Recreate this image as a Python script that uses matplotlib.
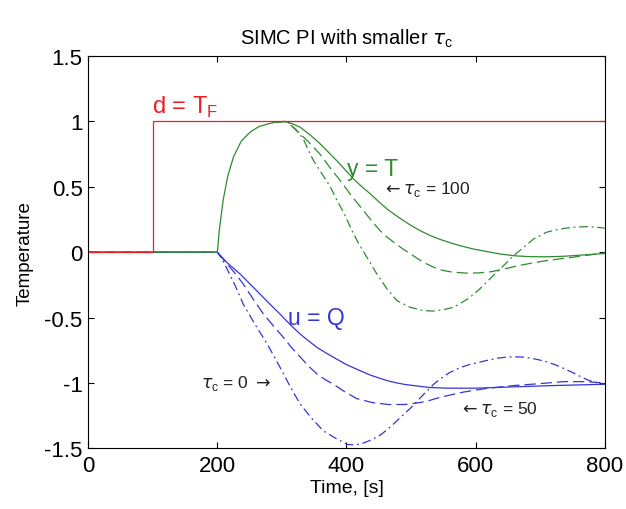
import matplotlib.pyplot as plt

plt.rcParams['font.family'] = ['Liberation Sans', 'DejaVu Sans']

# disturbance d = T_F
t_d = [0, 100, 100, 800]
d = [0, 0, 1, 1]

# y = T, common rise after the disturbance reaches the output
t_rise = [0, 200, 203, 209, 216, 225, 237, 251, 264, 277, 290, 305]
y_rise = [0, 0, 0.17, 0.40, 0.58, 0.73, 0.85, 0.92, 0.96, 0.98, 0.995, 1.0]

# y for tau_c = 100 / 50 / 0 (after the peak)
t_y100 = [315, 328, 343, 359, 372, 385, 398, 411, 424, 437, 450, 463, 476, 488, 501, 514, 530, 545, 562, 580, 596, 612,
          626, 640, 660, 680, 700, 720, 740, 770, 800]
y_y100 = [0.985, 0.957, 0.90, 0.83, 0.765, 0.70, 0.63, 0.56, 0.50, 0.446, 0.386, 0.33, 0.283, 0.242, 0.202, 0.165, 0.127,
          0.098, 0.07, 0.045, 0.025, 0.01, -0.003, -0.015, -0.027, -0.033, -0.035, -0.034, -0.03, -0.02, -0.01]
t_y50 = [312, 323, 340, 359, 374, 390, 408, 426, 439, 452, 463, 473, 486, 499, 509, 519, 535, 550, 565, 587, 605, 623,
         643, 664, 685, 705, 724, 742, 770, 800]
y_y50 = [0.98, 0.93, 0.85, 0.75, 0.65, 0.55, 0.43, 0.32, 0.24, 0.165, 0.115, 0.077, 0.03, -0.013, -0.045, -0.077, -0.115,
         -0.14, -0.153, -0.16, -0.158, -0.15, -0.13, -0.105, -0.085, -0.068, -0.055, -0.044, -0.025, -0.005]
t_y0 = [310, 321, 333, 341, 349, 362, 375, 386, 398, 408, 419, 433, 447, 462, 478, 498, 519, 535, 550, 566, 587, 600,
        612, 625, 638, 659, 675, 690, 710, 731, 752, 773, 790, 800]
y_y0 = [0.99, 0.94, 0.868, 0.78, 0.70, 0.60, 0.50, 0.39, 0.28, 0.17, 0.064, -0.05, -0.166, -0.275, -0.37, -0.42, -0.447,
        -0.45, -0.44, -0.421, -0.36, -0.31, -0.255, -0.19, -0.128, -0.026, 0.04, 0.102, 0.153, 0.178, 0.191, 0.196,
        0.19, 0.184]

# u = Q for tau_c = 100 / 50 / 0
t_u100 = [0, 200, 215, 235, 250, 266, 281, 297, 312, 328, 341, 354, 367, 380, 400, 421, 437, 452, 465, 478, 491, 504,
          517, 530, 556, 600, 659, 720, 800]
u_u100 = [0, 0, -0.08, -0.166, -0.24, -0.32, -0.395, -0.473, -0.55, -0.625, -0.677, -0.727, -0.767, -0.804, -0.86,
          -0.906, -0.94, -0.965, -0.985, -1.0, -1.012, -1.02, -1.028, -1.035, -1.04, -1.04, -1.03, -1.02, -1.01]
t_u50 = [0, 200, 215, 228, 240, 255, 271, 287, 302, 315, 328, 341, 354, 367, 380, 398, 416, 440, 465, 490, 514, 530,
         545, 563, 581, 600, 620, 640, 659, 700, 736, 770, 800]
u_u50 = [0, 0, -0.09, -0.165, -0.243, -0.355, -0.47, -0.565, -0.65, -0.73, -0.80, -0.87, -0.93, -0.975, -1.01, -1.07,
         -1.12, -1.15, -1.165, -1.165, -1.15, -1.132, -1.11, -1.09, -1.07, -1.055, -1.04, -1.03, -1.02, -1.005, -0.99,
         -0.99, -1.0]
t_u0 = [0, 200, 208, 215, 228, 240, 258, 277, 287, 297, 312, 328, 346, 364, 382, 401, 414, 426, 439, 452, 465, 478,
        491, 504, 515, 525, 535, 545, 560, 575, 590, 607, 620, 635, 647, 659, 672, 685, 698, 711, 724, 737, 750, 762,
        775, 785, 800]
u_u0 = [0, 0, -0.06, -0.128, -0.26, -0.396, -0.55, -0.70, -0.79, -0.88, -1.02, -1.16, -1.27, -1.366, -1.42, -1.47,
        -1.475, -1.46, -1.435, -1.40, -1.35, -1.29, -1.23, -1.17, -1.11, -1.06, -1.01, -0.97, -0.92, -0.885, -0.86,
        -0.84, -0.825, -0.81, -0.803, -0.80, -0.802, -0.81, -0.823, -0.84, -0.862, -0.89, -0.92, -0.95, -0.98, -0.995,
        -1.01]

red = '#ee1c25'
green = '#2e8b2e'
blue = '#3535d5'
dash = (0, (9, 4))
dashdot = (0, (7, 3, 1.5, 3))

fig = plt.figure(figsize=(6.26, 5.10), dpi=100)
ax = fig.add_axes([0.141, 0.119, 0.825, 0.769])

ax.plot(t_u100, u_u100, color=blue, lw=0.9)
ax.plot(t_u50, u_u50, color=blue, lw=0.9, linestyle=dash)
ax.plot(t_u0, u_u0, color=blue, lw=0.9, linestyle=dashdot)

ax.plot(t_rise + t_y100, y_rise + y_y100, color=green, lw=0.9)
ax.plot(t_rise[-2:] + t_y50, y_rise[-2:] + y_y50, color=green, lw=0.9, linestyle=dash)
ax.plot(t_rise[-2:] + t_y0, y_rise[-2:] + y_y0, color=green, lw=0.9, linestyle=dashdot)

ax.plot(t_d, d, color=red, lw=0.9)

ax.text(98, 1.07, r'd = T$_\mathregular{F}$', color=red, fontsize=17)
ax.text(401, 0.59, 'y = T', color=green, fontsize=16.5)
ax.text(310, -0.55, 'u = Q', color=blue, fontsize=16.5)
ax.text(455, 0.455, r'$\leftarrow\tau_\mathregular{c}$ = 100', color='#222222', fontsize=12.5)
ax.text(174, -1.034, r'$\tau_\mathregular{c}$ = 0 $\rightarrow$', color='#222222', fontsize=12.5)
ax.text(575, -1.23, r'$\leftarrow\tau_\mathregular{c}$ = 50', color='#222222', fontsize=12.5)

ax.set_xlim(0, 800)
ax.set_ylim(-1.5, 1.5)
ax.set_xticks([0, 200, 400, 600, 800])
ax.set_yticks([-1.5, -1, -0.5, 0, 0.5, 1, 1.5])
ax.set_yticklabels(['-1.5', '-1', '-0.5', '0', '0.5', '1', '1.5'])
ax.tick_params(direction='in', top=True, right=True, labelsize=16, length=4)
ax.tick_params(axis='x', pad=5)
ax.tick_params(axis='y', pad=4)
ax.set_xlabel('Time, [s]', fontsize=14, labelpad=2)
ax.set_ylabel('Temperature', fontsize=13.5, labelpad=8)
ax.set_title(r'SIMC PI with smaller $\tau_\mathregular{c}$', fontsize=14.5, pad=9)

fig.savefig('out.png', dpi=100)
